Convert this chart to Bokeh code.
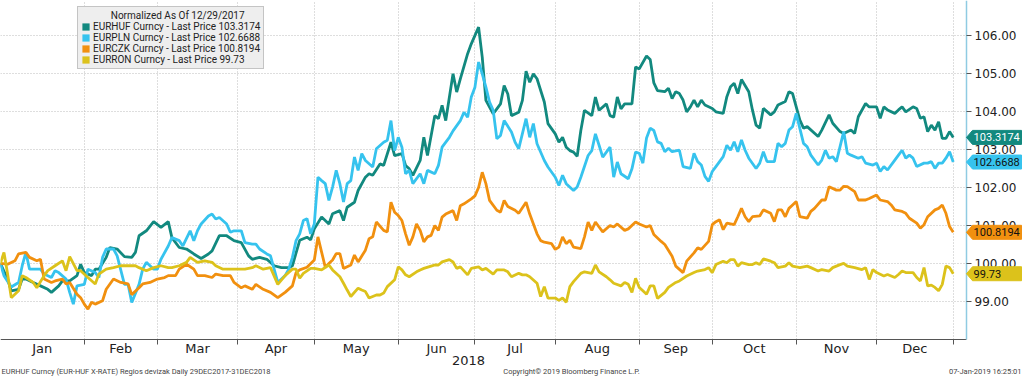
import numpy as np
from bokeh.plotting import figure
from bokeh.models import (Range1d, FixedTicker, Legend, LegendItem, NumeralTickFormatter,
                          CustomJSTickFormatter, ColumnDataSource)
from bokeh.embed import file_html
from bokeh.resources import INLINE
from bokeh.core.properties import value

# ---------------- data (x = business-day index, 0 = 29 Dec 2017) ----------------
month_labels = ["Jan", "Feb", "Mar", "Apr", "May", "Jun", "Jul", "Aug", "Sep", "Oct", "Nov", "Dec"]
month_end_idx = [23, 43, 65, 86, 109, 130, 152, 175, 195, 218, 240, 261]
y_ticks = [99, 100, 101, 102, 103, 104, 105, 106]

huf_idx = [0, 2, 3, 5, 6, 7, 9, 11, 13, 14, 16, 17, 19, 21, 22, 23, 25, 26, 27, 29, 30, 32, 34, 36, 37, 38, 40, 42, 44, 46, 47, 49, 51, 53, 55, 57, 58, 60, 62, 64, 66, 68, 69, 71, 73, 75, 77, 79, 80, 82, 84, 85, 86, 88, 90, 91, 93, 94, 95, 97, 98, 100, 101, 102, 104, 105, 107, 108, 110, 111, 112, 113, 115, 116, 117, 119, 120, 121, 122, 124, 125, 126, 128, 129, 131, 132, 133, 135, 136, 137, 138, 139, 140, 142, 143, 144, 145, 146, 147, 149, 150, 152, 153, 154, 155, 156, 157, 158, 159, 160, 162, 163, 164, 166, 167, 168, 169, 170, 171, 173, 174, 175, 177, 178, 179, 180, 182, 183, 184, 185, 186, 187, 188, 189, 190, 191, 192, 193, 195, 196, 198, 199, 200, 201, 202, 203, 205, 206, 207, 208, 209, 211, 212, 213, 215, 216, 217, 219, 220, 221, 224, 225, 227, 228, 230, 231, 233, 234, 235, 237, 238, 240, 241, 242, 243, 245, 246, 247, 248, 250, 251, 252, 253, 254, 255, 256, 257, 258, 259, 260, 261]
huf_val = [100.00, 99.59, 99.28, 99.32, 99.59, 99.59, 99.50, 99.41, 99.32, 99.24, 99.41, 99.54, 99.54, 99.68, 99.98, 99.76, 99.68, 99.85, 99.85, 100.16, 100.42, 100.38, 100.18, 100.16, 100.29, 100.73, 100.86, 101.10, 100.95, 101.10, 100.68, 100.42, 100.38, 100.25, 100.13, 100.25, 100.33, 100.73, 100.73, 100.60, 100.55, 100.20, 100.11, 100.16, 100.11, 99.94, 99.89, 99.89, 99.94, 100.61, 100.69, 100.62, 100.91, 101.22, 101.04, 101.31, 101.39, 101.13, 101.48, 101.61, 101.92, 102.27, 102.36, 102.32, 102.62, 102.58, 103.19, 102.84, 102.89, 102.58, 102.49, 102.32, 102.71, 103.32, 102.84, 103.89, 103.81, 104.16, 103.76, 104.99, 104.51, 104.86, 105.52, 105.78, 106.22, 105.43, 104.29, 103.94, 104.07, 104.20, 104.68, 104.46, 103.89, 103.98, 104.29, 105.06, 104.77, 104.99, 104.86, 104.25, 103.68, 103.41, 103.19, 103.32, 103.06, 102.97, 102.93, 102.82, 103.50, 104.03, 103.89, 104.38, 104.03, 104.20, 103.89, 103.85, 104.38, 104.07, 104.20, 104.20, 105.17, 105.12, 105.46, 105.37, 104.75, 104.55, 104.52, 104.61, 104.34, 104.52, 104.47, 104.30, 103.99, 104.12, 104.30, 104.12, 104.30, 104.17, 104.08, 103.99, 103.95, 104.39, 104.65, 104.74, 104.47, 104.84, 104.52, 104.04, 103.64, 103.56, 104.08, 103.91, 103.99, 104.17, 104.26, 104.52, 104.47, 103.77, 103.56, 103.60, 103.34, 103.51, 103.91, 103.69, 103.47, 103.42, 103.51, 103.42, 103.86, 104.21, 104.12, 104.12, 103.82, 104.12, 104.04, 103.95, 104.04, 104.12, 103.99, 104.12, 104.08, 103.82, 103.86, 103.47, 103.64, 103.51, 103.73, 103.29, 103.29, 103.47, 103.3174]

pln_idx = [0, 1, 3, 5, 6, 7, 8, 10, 11, 12, 14, 15, 16, 18, 19, 20, 21, 23, 24, 26, 27, 28, 29, 31, 32, 34, 35, 36, 38, 39, 40, 42, 43, 44, 46, 47, 49, 50, 52, 53, 54, 55, 57, 58, 59, 60, 62, 63, 64, 66, 67, 69, 70, 71, 73, 74, 75, 76, 78, 79, 80, 81, 82, 83, 84, 85, 86, 87, 88, 89, 90, 91, 92, 93, 94, 95, 96, 97, 98, 99, 100, 102, 103, 105, 106, 107, 108, 109, 110, 111, 112, 113, 115, 116, 117, 119, 120, 121, 123, 124, 126, 127, 128, 129, 130, 131, 132, 133, 134, 135, 136, 137, 138, 140, 141, 142, 144, 145, 146, 147, 149, 150, 152, 153, 154, 155, 157, 158, 159, 161, 162, 163, 164, 165, 167, 168, 169, 170, 172, 173, 174, 175, 176, 177, 178, 179, 180, 181, 182, 183, 184, 186, 187, 189, 190, 191, 192, 193, 194, 195, 196, 198, 199, 200, 201, 202, 203, 204, 205, 207, 208, 209, 210, 212, 213, 214, 215, 216, 217, 218, 219, 220, 221, 222, 224, 225, 226, 227, 228, 229, 231, 232, 233, 235, 236, 237, 239, 240, 241, 242, 243, 245, 246, 247, 248, 249, 250, 251, 253, 254, 255, 256, 257, 258, 259, 260, 261]
pln_val = [100.00, 99.68, 99.38, 99.50, 99.94, 100.29, 99.85, 99.85, 99.85, 99.72, 99.63, 99.81, 99.76, 99.59, 99.24, 98.93, 99.41, 99.45, 99.85, 99.76, 99.63, 100.16, 100.38, 100.38, 100.20, 99.45, 99.45, 98.97, 99.45, 99.85, 100.03, 99.85, 99.85, 100.11, 100.46, 100.68, 100.60, 100.46, 100.86, 100.60, 100.86, 101.04, 101.25, 101.30, 101.17, 101.21, 101.04, 100.82, 100.86, 100.86, 100.55, 100.51, 100.51, 100.38, 100.25, 100.20, 99.85, 99.50, 99.68, 99.85, 100.16, 100.60, 100.78, 101.13, 101.18, 100.78, 101.04, 102.27, 102.18, 102.10, 101.66, 102.01, 102.45, 102.10, 101.62, 102.10, 102.18, 102.80, 102.45, 102.89, 102.71, 102.54, 103.02, 103.19, 103.24, 103.76, 102.97, 103.32, 103.06, 102.36, 102.45, 102.10, 102.36, 102.10, 102.45, 102.36, 102.58, 103.06, 103.32, 103.49, 103.76, 103.98, 103.85, 104.38, 104.64, 105.30, 104.99, 104.64, 104.25, 104.03, 103.28, 103.37, 103.76, 103.46, 103.19, 103.02, 103.81, 103.32, 103.68, 103.15, 102.71, 102.54, 102.27, 102.05, 102.32, 102.10, 101.92, 102.01, 102.27, 102.84, 102.97, 103.41, 103.11, 102.80, 103.06, 102.27, 102.67, 102.36, 102.23, 102.49, 102.93, 102.90, 102.64, 103.30, 103.56, 103.50, 103.20, 103.16, 102.94, 103.03, 102.94, 102.98, 102.55, 102.50, 102.90, 102.68, 102.59, 102.29, 102.16, 102.42, 102.55, 102.81, 103.11, 102.98, 103.20, 102.94, 103.25, 102.98, 102.77, 102.50, 102.64, 102.94, 102.68, 102.68, 103.16, 103.07, 103.16, 103.51, 103.60, 103.95, 103.55, 103.16, 103.07, 102.85, 102.59, 102.72, 102.98, 102.77, 102.81, 102.68, 103.47, 102.90, 102.85, 102.77, 102.81, 102.64, 102.59, 102.64, 102.42, 102.55, 102.46, 102.72, 102.85, 102.98, 102.77, 102.85, 102.77, 102.55, 102.64, 102.64, 102.68, 102.50, 102.64, 102.64, 102.77, 102.94, 102.6688]

czk_idx = [0, 2, 4, 5, 7, 8, 10, 11, 12, 14, 15, 17, 18, 19, 21, 22, 23, 24, 25, 26, 28, 29, 31, 33, 35, 36, 38, 39, 41, 43, 45, 46, 48, 49, 51, 53, 54, 56, 58, 59, 61, 63, 64, 66, 67, 69, 70, 72, 74, 76, 78, 80, 81, 82, 84, 86, 87, 88, 89, 90, 91, 92, 93, 94, 96, 97, 98, 100, 101, 102, 103, 105, 106, 107, 108, 109, 110, 111, 112, 113, 114, 115, 116, 117, 118, 119, 120, 121, 122, 124, 125, 126, 127, 129, 130, 131, 132, 133, 134, 136, 137, 138, 139, 141, 142, 144, 145, 147, 148, 149, 151, 152, 153, 154, 155, 156, 157, 159, 160, 161, 162, 163, 164, 165, 167, 168, 169, 171, 172, 174, 175, 177, 178, 179, 181, 182, 184, 185, 187, 188, 190, 191, 192, 194, 195, 196, 197, 198, 199, 201, 202, 203, 204, 205, 206, 208, 209, 211, 212, 213, 214, 215, 216, 217, 218, 219, 221, 222, 223, 225, 226, 227, 229, 230, 231, 232, 234, 235, 237, 238, 240, 241, 243, 244, 245, 247, 248, 249, 251, 252, 253, 254, 256, 257, 258, 259, 260, 261]
czk_val = [100.00, 99.98, 100.07, 100.25, 100.29, 100.16, 100.07, 100.11, 99.59, 99.50, 99.54, 99.59, 99.46, 99.50, 99.19, 99.10, 98.93, 98.80, 98.98, 98.93, 99.02, 99.32, 99.59, 99.50, 99.46, 99.18, 99.36, 99.46, 99.50, 99.59, 99.63, 99.68, 99.68, 99.85, 99.98, 99.85, 99.68, 99.68, 99.63, 99.72, 99.68, 99.68, 99.50, 99.36, 99.41, 99.32, 99.45, 99.32, 99.24, 99.10, 99.24, 99.41, 99.76, 99.83, 99.90, 100.09, 100.70, 100.30, 99.90, 100.00, 100.09, 100.26, 100.26, 99.87, 99.96, 100.22, 100.04, 100.35, 100.65, 100.70, 101.09, 100.87, 100.83, 101.61, 101.35, 101.26, 101.13, 100.78, 100.48, 100.70, 101.04, 100.87, 100.57, 100.70, 100.74, 101.00, 100.87, 101.22, 101.30, 101.39, 101.13, 101.52, 101.57, 101.70, 101.78, 102.00, 102.40, 102.10, 101.66, 101.40, 101.35, 101.66, 101.50, 101.40, 101.32, 101.61, 101.30, 100.78, 100.60, 100.56, 100.52, 100.37, 100.43, 100.70, 100.52, 100.61, 100.43, 100.39, 100.70, 101.09, 100.87, 101.09, 100.96, 100.83, 101.00, 100.96, 101.04, 100.87, 100.91, 101.09, 101.04, 100.96, 101.00, 100.76, 100.58, 100.50, 100.19, 99.93, 99.76, 100.06, 100.28, 100.41, 100.37, 100.58, 101.02, 101.10, 101.15, 100.89, 101.06, 101.02, 101.23, 101.45, 101.23, 101.10, 101.23, 101.25, 101.41, 101.32, 101.10, 101.41, 101.41, 101.23, 101.45, 101.54, 101.63, 101.23, 101.19, 101.37, 101.45, 101.67, 101.67, 102.02, 101.93, 101.93, 102.03, 102.02, 101.89, 101.67, 101.67, 101.71, 101.80, 101.67, 101.63, 101.54, 101.41, 101.37, 101.32, 101.19, 101.06, 100.93, 101.02, 101.23, 101.41, 101.45, 101.54, 101.32, 100.97, 100.8194]

ron_idx = [0, 1, 2, 3, 5, 6, 7, 9, 10, 12, 13, 15, 17, 18, 19, 21, 22, 24, 26, 27, 29, 31, 33, 35, 37, 38, 40, 42, 44, 46, 47, 49, 51, 52, 54, 56, 58, 59, 61, 63, 65, 67, 69, 70, 72, 74, 76, 78, 80, 81, 82, 83, 85, 86, 88, 90, 91, 93, 94, 95, 96, 98, 99, 100, 101, 103, 104, 105, 106, 108, 109, 110, 111, 112, 114, 115, 116, 118, 119, 120, 121, 123, 124, 125, 126, 128, 129, 131, 132, 133, 135, 136, 138, 139, 140, 142, 143, 144, 145, 147, 148, 149, 150, 152, 153, 154, 155, 156, 157, 159, 160, 162, 163, 164, 166, 167, 168, 170, 171, 172, 173, 174, 175, 176, 177, 178, 179, 180, 182, 183, 185, 186, 188, 190, 191, 193, 194, 195, 196, 198, 199, 200, 201, 202, 203, 205, 206, 207, 208, 209, 211, 212, 213, 215, 216, 217, 219, 221, 222, 224, 225, 227, 228, 230, 231, 232, 234, 236, 237, 238, 239, 240, 242, 243, 245, 246, 247, 248, 250, 251, 252, 253, 254, 255, 256, 257, 258, 259, 260, 261]
ron_val = [100.00, 100.29, 99.72, 99.10, 99.28, 99.68, 99.63, 99.50, 99.36, 99.68, 99.81, 99.94, 100.07, 99.81, 100.18, 99.81, 99.81, 99.63, 99.46, 99.72, 99.85, 99.89, 99.94, 99.94, 99.94, 99.89, 99.81, 99.89, 99.94, 99.89, 99.89, 99.94, 100.03, 100.16, 100.03, 100.07, 100.03, 99.94, 99.85, 99.85, 99.85, 99.85, 99.89, 99.94, 99.85, 99.89, 99.45, 99.68, 99.85, 99.85, 99.61, 99.74, 99.87, 99.87, 99.83, 99.96, 99.83, 99.65, 99.48, 99.30, 99.13, 99.35, 99.30, 99.26, 99.09, 99.17, 99.17, 99.22, 99.39, 99.57, 99.91, 99.83, 99.70, 99.65, 99.78, 99.83, 99.87, 99.93, 99.96, 99.96, 100.04, 100.10, 100.04, 99.87, 99.91, 99.70, 99.87, 99.91, 99.83, 99.87, 99.72, 99.83, 99.83, 99.78, 99.65, 99.74, 99.70, 99.70, 99.65, 99.48, 99.13, 99.39, 99.09, 99.09, 99.03, 99.09, 98.98, 99.39, 99.52, 99.74, 99.78, 99.74, 99.96, 99.78, 99.65, 99.57, 99.48, 99.41, 99.50, 99.45, 99.24, 99.61, 99.37, 99.28, 99.19, 99.41, 99.41, 99.08, 99.24, 99.37, 99.50, 99.54, 99.67, 99.76, 99.80, 99.84, 99.89, 99.76, 99.97, 100.06, 100.02, 100.10, 100.10, 99.93, 100.02, 99.97, 99.97, 100.02, 99.97, 100.12, 100.06, 100.02, 99.89, 99.93, 100.02, 99.93, 99.89, 99.93, 99.89, 99.80, 99.84, 99.80, 99.89, 99.97, 100.00, 99.93, 99.89, 99.84, 99.89, 99.58, 99.84, 99.76, 99.67, 99.71, 99.63, 99.71, 99.80, 99.76, 99.76, 99.63, 99.54, 99.89, 99.41, 99.43, 99.37, 99.28, 99.45, 99.93, 99.89, 99.73]

series_names = ["EURHUF Curncy - Last Price 103.3174", "EURPLN Curncy - Last Price 102.6688",
                "EURCZK Curncy - Last Price 100.8194", "EURRON Curncy - Last Price 99.73"]
last_labels = ["103.3174", "102.6688", "100.8194", "99.73"]
legend_title = "Normalized As Of 12/29/2017"
year_label = "2018"
footer_left = "EURHUF Curncy (EUR-HUF X-RATE) Regios devizak  Daily 29DEC2017-31DEC2018"
footer_mid = "Copyright\u00a9 2019 Bloomberg Finance L.P."
footer_right = "07-Jan-2019 16:25:01"

colors = ["#12897f", "#36c3ee", "#f1900f", "#dcc21b"]
tag_text_colors = ["#ffffff", "#111111", "#111111", "#111111"]

# ---------------- geometry of the canvas (one frame covers the whole canvas) -------------
W, H = 1023, 377
PX_PER_DAY = 3.651
PX_PER_UNIT = 38.0
x0 = 0.05
y_top = 106.92
x_end = x0 + W / PX_PER_DAY            # frame spans whole width
y_bot = y_top - H / PX_PER_UNIT         # frame spans whole height
axis_x = x0 + 966 / PX_PER_DAY          # location of the price axis
axis_y = 98.0                           # location of the time axis

p = figure(width=W, height=H, x_range=Range1d(x0, x_end), y_range=Range1d(y_bot, y_top),
           y_axis_location="right", output_backend="svg", toolbar_location=None,
           min_border_left=0, min_border_top=0, min_border_right=0, min_border_bottom=0,
           background_fill_color="white", border_fill_color="white", outline_line_color=None)

bounds = [0] + month_end_idx
centers = [(bounds[i] + bounds[i + 1]) / 2 for i in range(12)]

xa = p.xaxis[0]
xa.fixed_location = axis_y
xa.bounds = (x0, axis_x)
xa.ticker = FixedTicker(ticks=centers, minor_ticks=month_end_idx)
xa.formatter = CustomJSTickFormatter(args=dict(c=centers, l=month_labels),
                                     code="const i = c.indexOf(tick); return i >= 0 ? l[i] : '';")
xa.major_tick_line_color = None
xa.major_tick_out = 0
xa.major_tick_in = 0
xa.minor_tick_in = 0
xa.minor_tick_out = 5
xa.minor_tick_line_color = "#555555"
xa.axis_line_color = "#555555"
xa.major_label_text_font = "DejaVu Sans"
xa.major_label_text_font_size = "13px"
xa.major_label_text_color = "#222222"
xa.major_label_standoff = -3

ya = p.yaxis[0]
ya.fixed_location = axis_x
ya.bounds = (axis_y, y_top)
ya.ticker = FixedTicker(ticks=y_ticks, minor_ticks=[])
ya.formatter = NumeralTickFormatter(format="0.00")
ya.axis_line_color = "#8fcbe2"
ya.axis_line_width = 1.5
ya.major_tick_in = 0
ya.major_tick_out = 5
ya.major_tick_line_color = "#555555"
ya.minor_tick_line_color = None
ya.major_label_text_font = "DejaVu Sans"
ya.major_label_text_font_size = "12px"
ya.major_label_text_color = "#222222"
ya.major_label_standoff = 3

p.xgrid.ticker = FixedTicker(ticks=month_end_idx)
p.xgrid.cross_bounds = (axis_y, y_top)
p.ygrid.cross_bounds = (x0, axis_x)
for g in (p.xgrid, p.ygrid):
    g.grid_line_color = "#bdbdbd"
    g.grid_line_dash = "1 2"
    g.grid_line_width = 1

all_idx = [huf_idx, pln_idx, czk_idx, ron_idx]
all_val = [huf_val, pln_val, czk_val, ron_val]
for xs, ys, c in zip(all_idx, all_val, colors):
    p.line(xs, ys, line_color=c, line_width=2.8)

# legend swatches: zero-size rects at each series' last point (nothing visible in the plot)
swatches = []
for xs, ys, c in zip(all_idx, all_val, colors):
    src = ColumnDataSource(dict(x=[xs[-1]], y=[ys[-1]]))
    r = p.rect(x="x", y="y", width=0, height=0, source=src,
               fill_color=c, line_color=c, line_alpha=0.0)
    swatches.append(r)

legend = Legend(items=[LegendItem(label=n, renderers=[r]) for n, r in zip(series_names, swatches)],
                location=(77, 308), title="\u00a0" * 12 + legend_title,
                title_text_font="Roboto", title_text_font_size="10px", title_text_font_style="normal",
                title_text_color="#222222", title_standoff=0,
                label_text_font="Roboto", label_text_font_size="10px", label_text_color="#222222",
                glyph_width=9, glyph_height=9, label_height=10, label_standoff=3,
                spacing=0, padding=3, margin=0,
                background_fill_color="#eeeeee", background_fill_alpha=1.0,
                border_line_color="#999999", border_line_width=1)
p.add_layout(legend)

# value tags to the right of the price axis, built from each series' last value
tip_x = axis_x
body_x0 = x0 + 972 / PX_PER_DAY
body_x1 = x0 + 1021 / PX_PER_DAY
half_h = 7.0 / PX_PER_UNIT
tag_xs, tag_ys, tag_tx, tag_ty = [], [], [], []
for ys in all_val:
    v = ys[-1]
    tag_xs.append([tip_x, body_x0, body_x1, body_x1, body_x0])
    tag_ys.append([v, v + half_h, v + half_h, v - half_h, v - half_h])
    tag_tx.append(body_x0 + 0.3)
    tag_ty.append(v)
p.patches(tag_xs, tag_ys, fill_color=colors, line_color=colors, level="overlay")
p.text(x=tag_tx, y=tag_ty, text=last_labels, text_color=tag_text_colors, text_baseline="middle",
       text_align="left", text_font=value("Roboto"), text_font_size="11px", level="overlay")

# year and footer texts (placed in the band below the time axis)
p.text(x=[x0 + 468 / PX_PER_DAY], y=[y_top - 360 / PX_PER_UNIT], text=[year_label],
       text_align="center", text_baseline="middle", text_font=value("DejaVu Sans"),
       text_font_size="13px", text_color="#222222")
foot_y = y_top - 371 / PX_PER_UNIT
p.text(x=[x0 + 1 / PX_PER_DAY, x0 + 571 / PX_PER_DAY, x0 + 1021 / PX_PER_DAY],
       y=[foot_y, foot_y, foot_y], text=[footer_left, footer_mid, footer_right],
       text_align=["left", "center", "right"], text_baseline="middle",
       text_font=value("Roboto"), text_font_size="7.5px", text_color="#444444")

open("out.html", "w").write(file_html(p, INLINE))
